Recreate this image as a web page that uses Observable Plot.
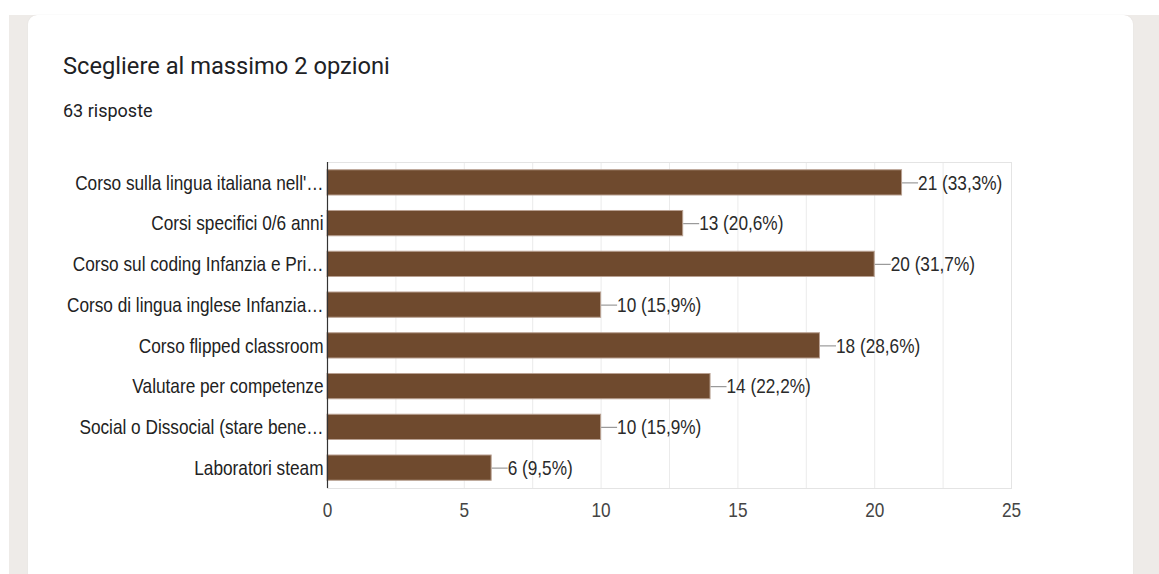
<!DOCTYPE html>
<html>
<head>
<meta charset="utf-8">
<script src="https://cdn.jsdelivr.net/npm/d3@7"></script>
<script src="https://cdn.jsdelivr.net/npm/@observablehq/plot@0.6"></script>
<style>
  html, body { margin: 0; padding: 0; background: #ffffff; width: 1159px; height: 574px; overflow: hidden; }
  #bg { position: absolute; left: 9px; top: 15px; right: 0; bottom: 0; background: #eeebe8; }
  #card { position: absolute; left: 28px; top: 15px; width: 1105px; height: 600px; background: #ffffff;
          border-radius: 9px; box-shadow: 0 0 1px 0 #d6d2cf; }
  #title { position: absolute; left: 63px; top: 52px; font-family: Roboto, sans-serif; font-size: 23.7px; color: #202124; white-space: nowrap; }
  #subtitle { position: absolute; left: 63px; top: 100px; font-family: Roboto, sans-serif; font-size: 18px; color: #202124; white-space: nowrap; }
  #chart { position: absolute; left: 0; top: 140px; }
</style>
</head>
<body>
<div id="bg"></div>
<div id="card"></div>
<div id="title">Scegliere al massimo 2 opzioni</div>
<div id="subtitle">63 risposte</div>
<div id="chart"></div>
<script>
const categories = [
  "Corso sulla lingua italiana nell'…",
  "Corsi specifici 0/6 anni",
  "Corso sul coding Infanzia e Pri…",
  "Corso di lingua inglese Infanzia…",
  "Corso flipped classroom",
  "Valutare per competenze",
  "Social o Dissocial (stare bene…",
  "Laboratori steam"
];
const values = [21, 13, 20, 10, 18, 14, 10, 6];
const percents = ["33,3%", "20,6%", "31,7%", "15,9%", "28,6%", "22,2%", "15,9%", "9,5%"];
const xTicks = [0, 5, 10, 15, 20, 25];
const gridValues = [0, 2.5, 5, 7.5, 10, 12.5, 15, 17.5, 20, 22.5, 25];

const data = categories.map((c, i) => ({label: c, value: values[i], pct: percents[i]}));

const FONT = "'Liberation Sans', Arial, sans-serif";

const connector = {
  draw(context) {
    context.moveTo(0, 0);
    context.lineTo(16, 0);
  }
};

const chart = Plot.plot({
  width: 1159,
  height: 400,
  marginLeft: 327,
  marginRight: 148,
  marginTop: 22,
  marginBottom: 52,
  style: {fontFamily: FONT, fontSize: "21px", background: "transparent"},
  x: {domain: [0, 25]},
  y: {domain: categories, paddingInner: 0.38, paddingOuter: 0.19, round: false},
  marks: [
    Plot.ruleX(gridValues, {stroke: "#ebebeb", strokeWidth: 1}),
    Plot.frame({stroke: "#e4e4e4"}),
    Plot.barX(data, {x: "value", y: "label", fill: "#6f4a2e", stroke: "#b8a091", strokeWidth: 1}),
    Plot.dot(data, {x: "value", y: "label", symbol: connector, r: 4, fill: "none", stroke: "#9a9a9a", strokeWidth: 1.2}),
    Plot.text(data, {x: "value", y: "label", text: d => `${d.value} (${d.pct})`, textAnchor: "start", dx: 16, fill: "#2a2a2a", fontSize: 21}),
    Plot.ruleX([0], {stroke: "#333333", strokeWidth: 1.2}),
    Plot.axisY({tickSize: 0, tickPadding: 4, fontSize: 21, fill: "#222222", label: null}),
    Plot.axisX({ticks: xTicks, tickSize: 0, tickPadding: 14, fontSize: 21, fill: "#444444", label: null})
  ]
});
document.getElementById("chart").appendChild(chart);

// The reference renders its chart text in a narrow face; compress glyphs horizontally.
chart.querySelectorAll("text").forEach(t => {
  const len = t.getComputedTextLength();
  if (len > 0) {
    t.setAttribute("textLength", (len * 0.82).toFixed(2));
    t.setAttribute("lengthAdjust", "spacingAndGlyphs");
  }
});
</script>
</body>
</html>
